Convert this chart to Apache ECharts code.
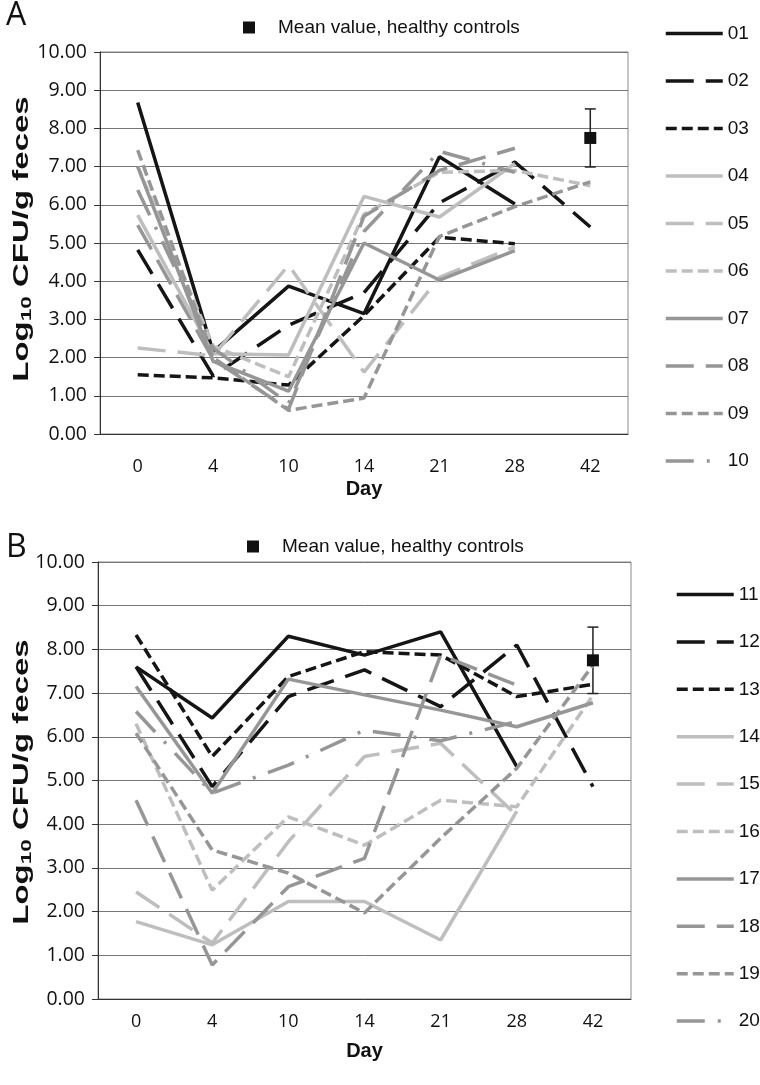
<!DOCTYPE html>
<html>
<head>
<meta charset="utf-8">
<title>Log10 CFU/g feces by day</title>
<script src="https://cdn.jsdelivr.net/npm/echarts@6/dist/echarts.min.js"></script>
<style>
  html, body { margin: 0; padding: 0; background: #fff; }
  #chart { width: 760px; height: 1085px; }
</style>
</head>
<body>
<div id="chart"></div>
<script>
// x categories (days) and y ticks
const days = ['0', '4', '10', '14', '21', '28', '42'];
const yMin = 0, yMax = 10, yStep = 1;

// panel A, patients 01-10
const namesA = ['01', '02', '03', '04', '05', '06', '07', '08', '09', '10'];
const s01 = [8.68, 2.15, 3.87, 3.15, 7.26, 6.02, null];
const s02 = [4.82, 1.52, 2.85, 3.70, 6.05, 7.12, 5.42];
const s03 = [1.55, 1.47, 1.28, 3.10, 5.15, 4.98, null];
const s04 = [5.73, 2.10, 2.07, 6.22, 5.68, 7.08, null];
const s05 = [2.25, 2.05, 4.42, 1.62, 4.10, 4.90, null];
const s06 = [7.00, 2.30, 1.50, 5.75, 6.85, 6.90, 6.50];
const s07 = [7.00, 1.90, 1.12, 5.00, 4.03, 4.80, null];
const s08 = [5.47, 1.95, 0.65, 5.70, 6.90, 7.48, null];
const s09 = [7.43, 2.00, 0.62, 0.94, 5.17, 5.95, 6.60];
const s10 = [6.39, 2.25, 0.80, 5.30, 7.40, 6.85, null];

// panel B, patients 11-20
const namesB = ['11', '12', '13', '14', '15', '16', '17', '18', '19', '20'];
const s11 = [7.60, 6.43, 8.30, 7.87, 8.40, 5.32, null];
const s12 = [7.60, 4.86, 6.92, 7.53, 6.69, 8.10, 4.86];
const s13 = [8.33, 5.55, 7.38, 7.95, 7.87, 6.92, 7.20];
const s14 = [1.77, 1.24, 2.23, 2.23, 1.35, 4.30, null];
const s15 = [2.45, 1.28, 3.60, 5.55, 5.85, 4.20, null];
const s16 = [6.30, 2.49, 4.17, 3.52, 4.55, 4.40, 6.95];
const s17 = [7.15, 4.71, 7.32, 6.96, 6.61, 6.23, 6.78];
const s18 = [4.55, 0.78, 2.57, 3.22, 7.87, 7.18, null];
const s19 = [6.08, 3.41, 2.88, 1.97, 3.68, 5.28, 7.64];
const s20 = [6.58, 4.71, 5.35, 6.15, 5.91, 6.35, null];

// healthy controls: mean and error bar ends
const meanName = 'Mean value, healthy controls';
const meanDay = '42';
const meanValue = 7.75;
const meanLow = 6.99, meanHigh = 8.51;

const valuesA = [s01, s02, s03, s04, s05, s06, s07, s08, s09, s10];
const valuesB = [s11, s12, s13, s14, s15, s16, s17, s18, s19, s20];

// line look, same order in both panels
const DARK = '#151515', LIGHT = '#bebebe', MID = '#969696';
const colors = [DARK, DARK, DARK, LIGHT, LIGHT, LIGHT, MID, MID, MID, MID];
const LONG = [28, 12], SHORT = [11, 5], DASHDOT = [28, 13, 3, 13];
const types = ['solid', LONG, SHORT, 'solid', LONG, SHORT, 'solid', LONG, SHORT, DASHDOT];

const tickFont = 'Open Sans, sans-serif';
const legendFont = 'Liberation Sans, Arial, sans-serif';

function makeLines(names, values, axis) {
  return names.map((n, i) => ({
    name: n,
    type: 'line',
    xAxisIndex: axis,
    yAxisIndex: axis,
    data: values[i],
    symbol: 'none',
    connectNulls: false,
    lineStyle: { color: colors[i], width: 3.5, type: types[i] },
    itemStyle: { color: colors[i] },
    emphasis: { disabled: true },
    animation: false
  }));
}

function errBar(params, api) {
  const x = api.value(0);
  const lo = api.coord([x, api.value(1)]);
  const hi = api.coord([x, api.value(2)]);
  const w = 5.5;
  const st = { stroke: '#222', lineWidth: 1.5 };
  return {
    type: 'group',
    children: [
      { type: 'line', shape: { x1: lo[0], y1: lo[1], x2: hi[0], y2: hi[1] }, style: st },
      { type: 'line', shape: { x1: lo[0] - w, y1: lo[1], x2: lo[0] + w, y2: lo[1] }, style: st },
      { type: 'line', shape: { x1: hi[0] - w, y1: hi[1], x2: hi[0] + w, y2: hi[1] }, style: st }
    ]
  };
}

function meanSeries(axis) {
  return [
    {
      type: 'custom',
      xAxisIndex: axis, yAxisIndex: axis,
      renderItem: errBar,
      data: [[meanDay, meanLow, meanHigh]],
      encode: { x: 0, y: [1, 2] },
      silent: true, animation: false, z: 3
    },
    {
      name: meanName,
      type: 'scatter',
      xAxisIndex: axis, yAxisIndex: axis,
      data: [[meanDay, meanValue]],
      symbol: 'rect', symbolSize: 12,
      itemStyle: { color: '#111', opacity: 1 },
      silent: true, animation: false, z: 4
    }
  ];
}

function xAxis(grid, margin, nameGap) {
  return {
    type: 'category', gridIndex: grid, data: days, boundaryGap: true,
    name: 'Day', nameLocation: 'middle', nameGap: nameGap,
    nameTextStyle: { fontFamily: legendFont, fontWeight: 'bold', fontSize: 20, color: '#111' },
    axisLine: { lineStyle: { color: '#333', width: 1 } },
    axisTick: { alignWithLabel: true, length: 6, lineStyle: { color: '#333' } },
    axisLabel: { fontFamily: tickFont, fontSize: 18, color: '#111', margin: margin },
    splitLine: { show: false }
  };
}

function yAxis(grid) {
  return {
    type: 'value', gridIndex: grid, min: yMin, max: yMax, interval: yStep,
    axisLine: { show: true, lineStyle: { color: '#333', width: 1 } },
    axisTick: { show: true, length: 6, lineStyle: { color: '#333' } },
    axisLabel: { fontFamily: tickFont, fontSize: 19.5, color: '#111', margin: 13, formatter: v => v.toFixed(2) },
    splitLine: { lineStyle: { color: '#777', width: 1 } }
  };
}

// rotated y title, stretched along its length like the original
function yTitle(cy) {
  return {
    type: 'text', x: 22, y: cy, rotation: Math.PI / 2, scaleX: 1.5,
    style: {
      text: '{b|Log}{s|10}{b| CFU/g feces}', align: 'center', verticalAlign: 'middle',
      rich: {
        b: { fontFamily: legendFont, fontWeight: 'bold', fontSize: 22, fill: '#111' },
        s: { fontFamily: legendFont, fontWeight: 'bold', fontSize: 15, fill: '#111', padding: [9, 0, 0, 0] }
      }
    }
  };
}

function lineLegend(names, left, top, gap) {
  return {
    data: names, orient: 'vertical', left: left, top: top,
    itemWidth: 57, itemHeight: 14, itemGap: gap,
    itemStyle: { opacity: 0 },
    lineStyle: { width: 3.5 },
    textStyle: { fontFamily: legendFont, fontSize: 19, color: '#111' },
    selectedMode: false
  };
}

function meanLegend(left, top) {
  return {
    data: [meanName], left: left, top: top,
    icon: 'rect', itemWidth: 12, itemHeight: 12,
    textStyle: { fontFamily: legendFont, fontSize: 19, color: '#111', padding: [0, 0, 0, 18] },
    selectedMode: false
  };
}

const chart = echarts.init(document.getElementById('chart'), null, { renderer: 'canvas' });
chart.setOption({
  backgroundColor: '#fff',
  animation: false,
  graphic: [
    { type: 'text', left: 6, top: 0, style: { text: 'A', fontFamily: tickFont, fontSize: 32, fill: '#111' } },
    { type: 'text', left: 6, top: 532, style: { text: 'B', fontFamily: tickFont, fontSize: 32, fill: '#111' } },
    yTitle(239),
    yTitle(782)
  ],
  grid: [
    { left: 100, top: 52, width: 528, height: 382, show: true, borderColor: '#888', borderWidth: 1 },
    { left: 98, top: 562, width: 533, height: 437, show: true, borderColor: '#888', borderWidth: 1 }
  ],
  xAxis: [xAxis(0, 24, 45), xAxis(1, 14, 42)],
  yAxis: [yAxis(0), yAxis(1)],
  legend: [
    lineLegend(namesA, 659, 19, 28.5),
    lineLegend(namesB, 670, 580, 28.4),
    meanLegend(238, 13),
    meanLegend(242, 532)
  ],
  series: [
    ...makeLines(namesA, valuesA, 0),
    ...meanSeries(0),
    ...makeLines(namesB, valuesB, 1),
    ...meanSeries(1)
  ]
});
</script>
</body>
</html>
